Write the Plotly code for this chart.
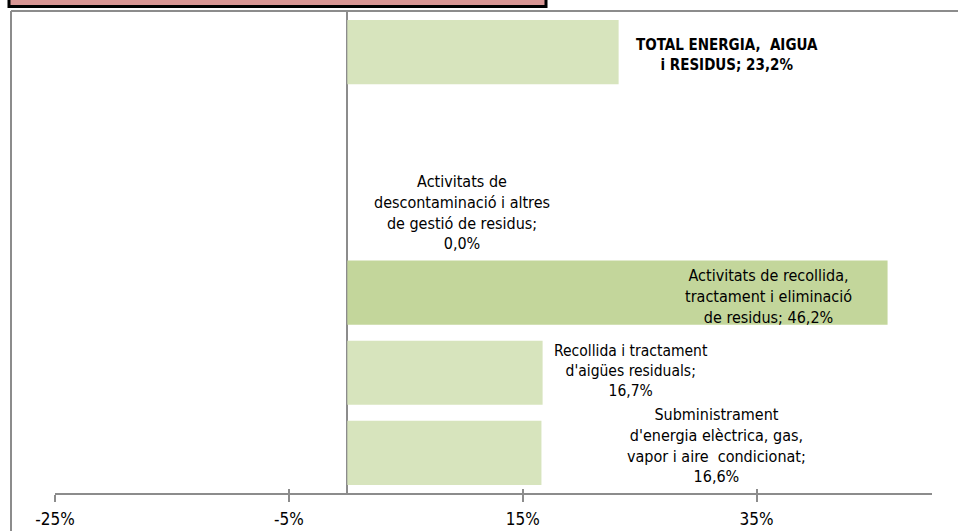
import plotly.graph_objects as go

# Data (bottom to top)
categories = [
    "Subministrament d'energia elèctrica, gas, vapor i aire condicionat",
    "Recollida i tractament d'aigües residuals",
    "Activitats de recollida, tractament i eliminació de residus",
    "Activitats de descontaminació i altres de gestió de residus",
    " ",
    "TOTAL ENERGIA, AIGUA i RESIDUS",
]
values = [16.6, 16.7, 46.2, 0.0, None, 23.2]
bar_colors = ["#d7e4bd", "#d7e4bd", "#c3d69b", "#d7e4bd", "#d7e4bd", "#d7e4bd"]

label_texts = [
    "Subministrament<br>d'energia elèctrica, gas,<br>vapor i aire  condicionat;<br>16,6%",
    "Recollida i tractament<br>d'aigües residuals;<br>16,7%",
    "Activitats de recollida,<br>tractament i eliminació<br>de residus; 46,2%",
    "Activitats de<br>descontaminació i altres<br>de gestió de residus;<br>0,0%",
    None,
    "<b>TOTAL ENERGIA,  AIGUA<br>i RESIDUS; 23,2%</b>",
]
label_x = [31.6, 24.3, 36.0, 9.8, None, 32.5]
label_yshift = [7, 2, -4, 0, 0, -3]
label_size = [16, 15.5, 16, 16, 16, 15]

tick_vals = [-25, -5, 15, 35]
tick_text = ["-25%", "-5%", "15%", "35%"]
x_range = [-25, 50]

FONT = "Liberation Sans Narrow, DejaVu Sans Condensed, Arial Narrow, sans-serif"
GRAY = "#8c8c8c"

fig = go.Figure()
fig.add_trace(go.Bar(
    y=categories, x=values, orientation="h",
    marker=dict(color=bar_colors, line=dict(width=0)),
    hoverinfo="skip", showlegend=False,
))
# overlay axis for inward tick halves
fig.add_trace(go.Scatter(x=[None], y=[None], xaxis="x2", yaxis="y", showlegend=False))

for txt, lx, ys, cat, fs in zip(label_texts, label_x, label_yshift, categories, label_size):
    if txt is None:
        continue
    fig.add_annotation(x=lx, y=cat, text=txt, showarrow=False, yshift=ys,
                       xanchor="center", yanchor="middle", align="center",
                       font=dict(family=FONT, size=fs, color="#000000"))

W, H = 958, 531
ml, mr, mt, mb = 55, 26, 12, 38
pw, ph = W - ml - mr, H - mt - mb

def px(xp):
    return (xp - ml) / pw

def py(yp):
    return (H - mb - yp) / ph

shapes = [
    # chart border (left and top)
    dict(type="line", xref="paper", yref="paper", x0=px(11), x1=px(11), y0=py(11), y1=py(535),
         line=dict(color=GRAY, width=2)),
    dict(type="line", xref="paper", yref="paper", x0=px(11), x1=px(965), y0=py(11), y1=py(11),
         line=dict(color=GRAY, width=2)),
    # title box cut off at top
    dict(type="rect", xref="paper", yref="paper", x0=px(9), x1=px(546), y0=py(-20), y1=py(6.5),
         fillcolor="#d99694", line=dict(color="#000000", width=3)),
]

fig.update_layout(
    width=W, height=H,
    margin=dict(l=ml, r=mr, t=mt, b=mb, autoexpand=False),
    paper_bgcolor="white", plot_bgcolor="white",
    bargap=0.2,
    shapes=shapes,
    xaxis=dict(range=x_range, tickvals=tick_vals, ticktext=tick_text, automargin=False,
               showgrid=False, zeroline=True, zerolinecolor=GRAY, zerolinewidth=1.5,
               showline=True, linecolor=GRAY, linewidth=2,
               ticks="outside", ticklen=7, tickwidth=1.5, tickcolor=GRAY,
               ticklabelstandoff=3,
               tickfont=dict(family=FONT, size=17, color="#000000")),
    xaxis2=dict(range=x_range, overlaying="x", matches="x", side="bottom", automargin=False,
                tickvals=tick_vals, showticklabels=False, showgrid=False, zeroline=False,
                showline=False, ticks="inside", ticklen=4, tickwidth=1.5, tickcolor=GRAY),
    yaxis=dict(categoryorder="array", categoryarray=categories, showticklabels=False,
               automargin=False,
               showgrid=False, zeroline=False, showline=False, ticks=""),
)

fig.write_html("out.html", config={"displayModeBar": False},
               post_script="document.body.style.margin='0';document.body.style.overflow='hidden';")
